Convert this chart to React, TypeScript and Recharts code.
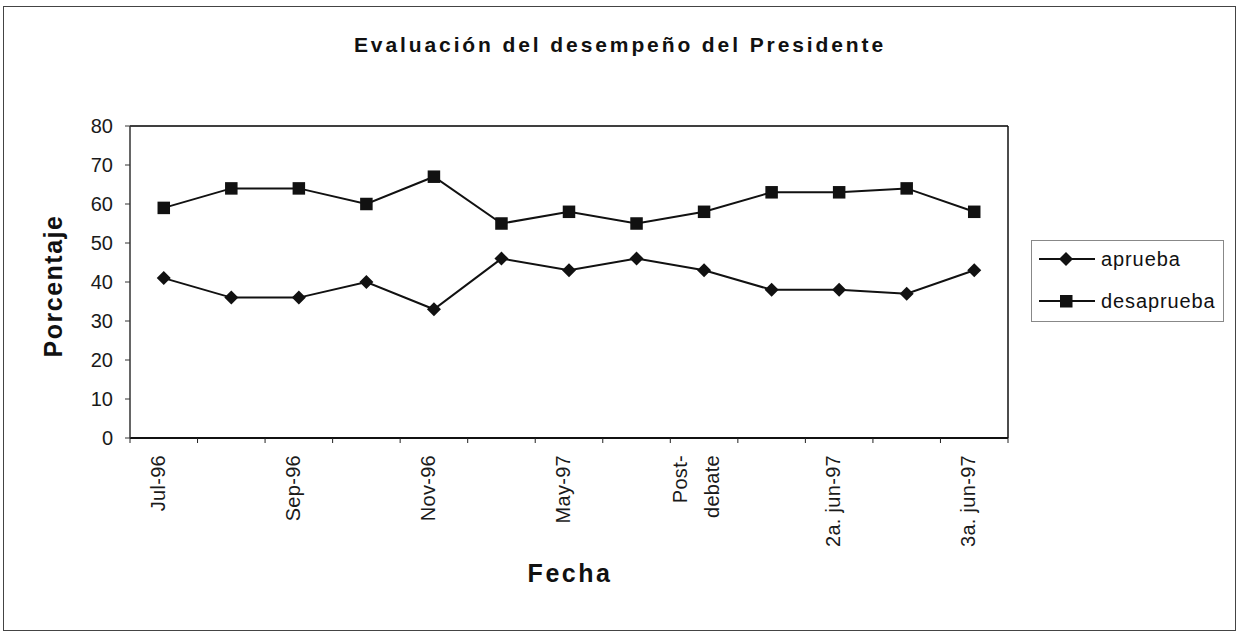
import React from "react";
import {
  LineChart,
  Line,
  XAxis,
  YAxis,
  CartesianGrid,
  ReferenceLine,
} from "recharts";

const categories = [
  "Jul-96",
  "Ago-96",
  "Sep-96",
  "Oct-96",
  "Nov-96",
  "Mar-97",
  "May-97",
  "Debate",
  "Post-debate",
  "1a. jun-97",
  "2a. jun-97",
  "2b. jun-97",
  "3a. jun-97",
];
const aprueba = [41, 36, 36, 40, 33, 46, 43, 46, 43, 38, 38, 37, 43];
const desaprueba = [59, 64, 64, 60, 67, 55, 58, 55, 58, 63, 63, 64, 58];
const yTicks = [0, 10, 20, 30, 40, 50, 60, 70, 80];

const data = categories.map((name, i) => ({
  name,
  aprueba: aprueba[i],
  desaprueba: desaprueba[i],
}));

const W = 1244;
const H = 633;
const MARGIN = { top: 126, right: 226, left: 60, bottom: 95 };
const FONT = "'Liberation Sans', Arial, sans-serif";

const splitLabel = (v: string): string[] => {
  const idx = v.indexOf("-");
  if (idx > 0) {
    const rest = v.slice(idx + 1);
    if (/^[A-Za-z]{3,}$/.test(rest)) return [v.slice(0, idx + 1), rest];
  }
  return [v];
};

const XTick = (props: any) => {
  const { x, y, payload, index } = props;
  const n = categories.length;
  const plotW = W - MARGIN.left - 70 - MARGIN.right - 10;
  const half = plotW / n / 2;
  const show = index % 2 === 0;
  const parts = splitLabel(String(payload.value));
  const ty = y + 17;
  return (
    <g>
      <line x1={x - half} y1={y} x2={x - half} y2={y + 5} stroke="#222" strokeWidth={1} />
      {index === n - 1 && (
        <line x1={x + half} y1={y} x2={x + half} y2={y + 5} stroke="#222" strokeWidth={1} />
      )}
      {show &&
        parts.map((p, k) => {
          const tx = parts.length === 1 ? x + 1 : x - 17 + k * 32;
          return (
            <text
              key={k}
              x={tx}
              y={ty}
              transform={`rotate(-90, ${tx}, ${ty})`}
              textAnchor="end"
              fontFamily={FONT}
              fontSize={20}
              fill="#1a1a1a"
              letterSpacing={0.3}
            >
              {p}
            </text>
          );
        })}
    </g>
  );
};

const Diamond = (props: any) => {
  const { cx, cy, index } = props;
  if (cx == null || cy == null) return <g key={`d${index}`} />;
  const r = 7;
  return (
    <path
      key={`d${index}`}
      d={`M${cx},${cy - r} L${cx + r},${cy} L${cx},${cy + r} L${cx - r},${cy} Z`}
      fill="#111"
    />
  );
};

const Square = (props: any) => {
  const { cx, cy, index } = props;
  if (cx == null || cy == null) return <g key={`s${index}`} />;
  const s = 12.5;
  return <rect key={`s${index}`} x={cx - s / 2} y={cy - s / 2} width={s} height={s} fill="#111" />;
};

export default function App() {
  return (
    <div
      style={{
        position: "absolute",
        left: 0,
        top: 0,
        width: W,
        height: H,
        background: "#fff",
        fontFamily: FONT,
      }}
    >
      <div
        style={{
          position: "absolute",
          left: 3,
          top: 6,
          width: 1233,
          height: 625,
          border: "1px solid #444",
          boxSizing: "border-box",
        }}
      />
      <div
        style={{
          position: "absolute",
          left: 0,
          width: 1240,
          top: 33,
          textAlign: "center",
          fontSize: 21,
          fontWeight: "bold",
          letterSpacing: 2.9,
          color: "#111",
          lineHeight: "24px",
        }}
      >
        Evaluación del desempeño del Presidente
      </div>
      <div
        style={{
          position: "absolute",
          left: 53,
          top: 286,
          transform: "translate(-50%, -50%) rotate(-90deg)",
          fontSize: 25,
          fontWeight: "bold",
          letterSpacing: 1.5,
          color: "#111",
          whiteSpace: "nowrap",
          lineHeight: "28px",
        }}
      >
        Porcentaje
      </div>
      <div
        style={{
          position: "absolute",
          left: 570,
          top: 573,
          transform: "translate(-50%, -50%)",
          fontSize: 25,
          fontWeight: "bold",
          letterSpacing: 2.5,
          color: "#111",
          whiteSpace: "nowrap",
          lineHeight: "28px",
        }}
      >
        Fecha
      </div>
      <div style={{ position: "absolute", left: 0, top: 0 }}>
        <LineChart width={W} height={H} data={data} margin={MARGIN}>
          <CartesianGrid vertical={false} stroke="#9a9a9a" strokeWidth={1} />
          <XAxis
            dataKey="name"
            scale="band"
            interval={0}
            height={100}
            tickSize={0}
            tickMargin={0}
            tickLine={false}
            axisLine={{ stroke: "#111", strokeWidth: 2 }}
            tick={<XTick />}
          />
          <YAxis
            yAxisId="left"
            domain={[0, 80]}
            ticks={yTicks}
            width={70}
            tickSize={5}
            tickMargin={12}
            axisLine={{ stroke: "#333", strokeWidth: 1.5 }}
            tickLine={{ stroke: "#333" }}
            tick={{ fontFamily: FONT, fontSize: 20, fill: "#1a1a1a" }}
          />
          <YAxis
            yAxisId="right"
            orientation="right"
            domain={[0, 80]}
            width={10}
            tick={false}
            tickLine={false}
            axisLine={{ stroke: "#111", strokeWidth: 1.5 }}
          />
          <ReferenceLine yAxisId="left" y={80} stroke="#111" strokeWidth={1.5} />
          <Line
            yAxisId="left"
            type="linear"
            dataKey="aprueba"
            stroke="#111"
            strokeWidth={2}
            dot={(p: any) => <Diamond {...p} />}
            activeDot={false}
            isAnimationActive={false}
          />
          <Line
            yAxisId="left"
            type="linear"
            dataKey="desaprueba"
            stroke="#111"
            strokeWidth={2}
            dot={(p: any) => <Square {...p} />}
            activeDot={false}
            isAnimationActive={false}
          />
        </LineChart>
      </div>
      <div
        style={{
          position: "absolute",
          left: 1031,
          top: 240,
          width: 193,
          height: 82,
          border: "1px solid #888",
          boxSizing: "border-box",
        }}
      >
        {[
          { label: "aprueba", shape: "diamond" },
          { label: "desaprueba", shape: "square" },
        ].map((it, i) => (
          <div
            key={it.label}
            style={{
              position: "absolute",
              left: 6,
              top: 6 + i * 42,
              height: 24,
              display: "flex",
              alignItems: "center",
              whiteSpace: "nowrap",
            }}
          >
            <svg width={58} height={24} style={{ display: "block" }}>
              <line x1={1} y1={12} x2={57} y2={12} stroke="#111" strokeWidth={2} />
              {it.shape === "diamond" ? (
                <path d="M28,5 L35,12 L28,19 L21,12 Z" fill="#111" />
              ) : (
                <rect x={22} y={6} width={12.5} height={12.5} fill="#111" />
              )}
            </svg>
            <span
              style={{
                marginLeft: 5,
                fontSize: 20,
                letterSpacing: 0.9,
                color: "#111",
                lineHeight: "24px",
              }}
            >
              {it.label}
            </span>
          </div>
        ))}
      </div>
    </div>
  );
}
